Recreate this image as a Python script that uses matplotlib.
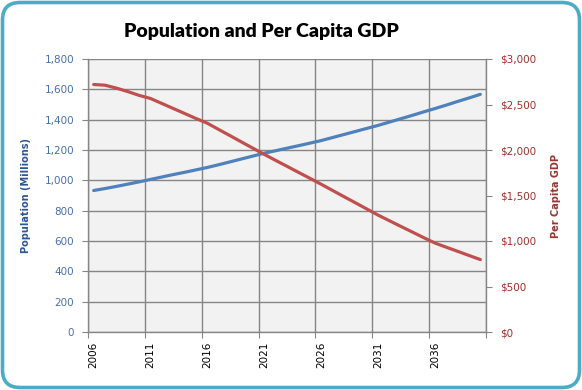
import matplotlib
matplotlib.use("Agg")
import matplotlib.pyplot as plt
from matplotlib.patches import FancyBboxPatch
from matplotlib.ticker import FuncFormatter, FixedLocator

years = list(range(2006, 2041))
population = [933, 946, 960, 975, 990, 1006, 1022, 1038, 1053, 1069,
              1085, 1103, 1122, 1141, 1160, 1179, 1195, 1212, 1228, 1245,
              1262, 1282, 1302, 1322, 1342, 1362, 1384, 1406, 1428, 1451,
              1473, 1496, 1520, 1543, 1567]
gdp = [2720, 2712, 2680, 2642, 2600, 2566, 2511, 2456, 2401, 2346,
       2294, 2225, 2157, 2088, 2020, 1952, 1886, 1821, 1755, 1690,
       1624, 1556, 1488, 1421, 1353, 1285, 1223, 1161, 1100, 1038,
       978, 932, 887, 841, 796]
label_years = [2006, 2011, 2016, 2021, 2026, 2031, 2036]
title = "Population and Per Capita GDP"

W, H = 582, 390
fig = plt.figure(figsize=(W / 100, H / 100), dpi=100)
fig.patch.set_facecolor("white")

border = FancyBboxPatch((2.5 / W, 2.5 / H), (W - 5) / W, (H - 5) / H,
                        boxstyle="round,pad=0,rounding_size=0.03",
                        transform=fig.transFigure, facecolor="none",
                        edgecolor="#4BACC6", linewidth=2.6, zorder=10,
                        mutation_aspect=W / H)
fig.patches.append(border)

left, right, top, bottom = 88, 486, 59, 332
ax = fig.add_axes([left / W, 1 - bottom / H, (right - left) / W, (bottom - top) / H])
ax.set_facecolor("#F2F2F2")
grid_col = "#868686"

ax.set_xlim(years[0] - 0.5, years[-1] + 0.5)
ax.set_ylim(0, 1800)
ax.set_yticks(range(0, 1801, 200))
ax.yaxis.set_major_formatter(FuncFormatter(lambda v, p: f"{int(v):,}"))
bounds = [y - 0.5 for y in label_years] + [years[-1] + 0.5]
ax.xaxis.set_major_locator(FixedLocator(bounds))
ax.xaxis.set_minor_locator(FixedLocator(label_years))
ax.set_xticklabels([""] * len(bounds))
ax.set_xticklabels([str(y) for y in label_years], minor=True, rotation=90,
                   fontsize=7.5, color="black")
ax.tick_params(axis="x", which="minor", length=0, pad=7)
ax.tick_params(axis="x", which="major", length=4, color=grid_col, direction="out")
ax.tick_params(axis="y", length=4, color=grid_col, labelsize=7.5,
               labelcolor="#4A6FB0", pad=6)
ax.grid(True, which="major", color=grid_col, linewidth=1.0)
ax.set_axisbelow(True)
for s in ["top", "right"]:
    ax.spines[s].set_visible(False)
for s in ["left", "bottom"]:
    ax.spines[s].set_color(grid_col)
    ax.spines[s].set_linewidth(1.0)

ax.plot(years, population, color="#4F81BD", linewidth=2.3, zorder=3,
        solid_capstyle="round")
ax.set_ylabel("Population (Millions)", fontsize=7, fontweight="bold",
              color="#2E5597", labelpad=10)

ax2 = ax.twinx()
ax2.set_ylim(0, 3000)
ax2.set_yticks(range(0, 3001, 500))
ax2.yaxis.set_major_formatter(FuncFormatter(lambda v, p: f"${int(v):,}"))
ax2.tick_params(axis="y", length=4, color=grid_col, labelsize=7.5,
                labelcolor="#A0302C", pad=6)
for s in ["top", "left", "bottom"]:
    ax2.spines[s].set_visible(False)
ax2.spines["right"].set_color(grid_col)
ax2.spines["right"].set_linewidth(1.0)
ax2.plot(years, gdp, color="#C0504D", linewidth=2.3, zorder=3,
         solid_capstyle="round")
ax2.set_ylabel("Per Capita GDP", fontsize=7, fontweight="bold",
               color="#953735", labelpad=11)

fig.text(261 / W, 1 - 32 / H, title, ha="center", va="center",
         fontsize=14, fontweight="heavy", family="Lato")

fig.savefig("out.png", dpi=100)
